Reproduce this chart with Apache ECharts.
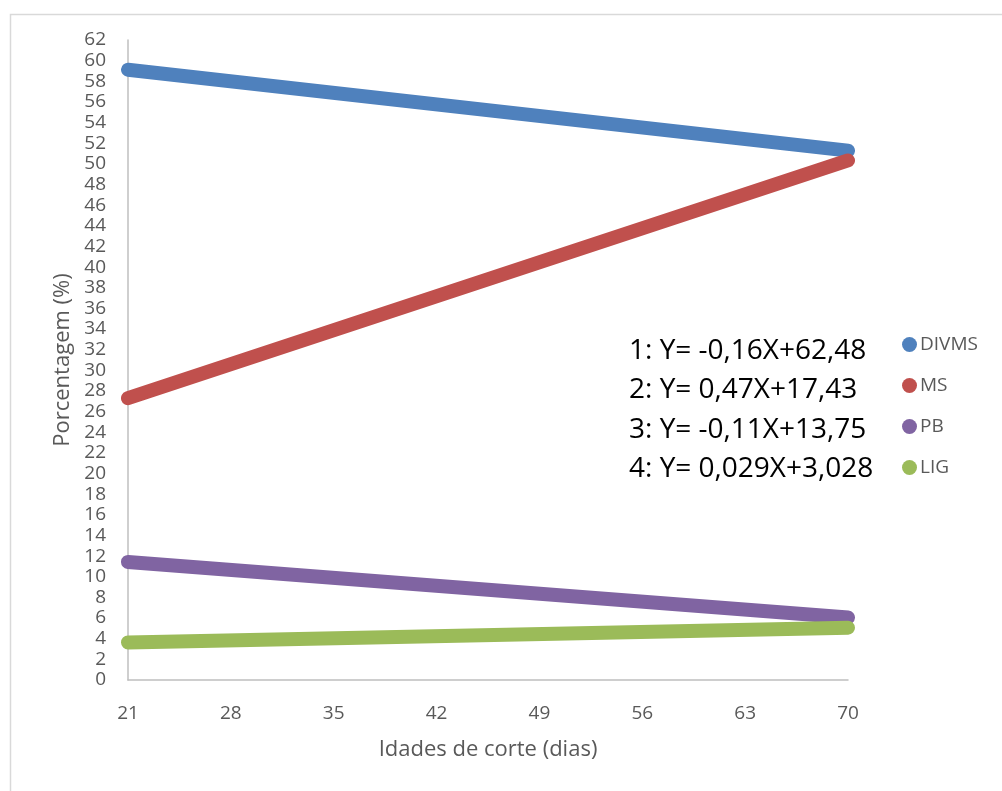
<!DOCTYPE html>
<html><head><meta charset="utf-8">
<script src="https://cdn.jsdelivr.net/npm/echarts@6/dist/echarts.min.js"></script>
<style>html,body{margin:0;padding:0;background:#fff}#c{width:1002px;height:791px}</style>
</head><body><div id="c"></div>
<script>
const ages = [21, 70];
const seriesNames = ['DIVMS', 'MS', 'PB', 'LIG'];
const divms = [59.12, 51.28];
const ms = [27.30, 50.33];
const pb = [11.44, 6.05];
const lig = [3.64, 5.06];
const colors = ['#4f81bd', '#c0504d', '#8064a2', '#9bbb59'];
const equations = ['1: Y= -0,16X+62,48', '2: Y= 0,47X+17,43', '3: Y= -0,11X+13,75', '4: Y= 0,029X+3,028'];

const values = [divms, ms, pb, lig];
const font = '"Open Sans", sans-serif';
const chart = echarts.init(document.getElementById('c'), null, {renderer: 'canvas'});
chart.setOption({
  animation: false,
  backgroundColor: '#fff',
  color: colors,
  grid: {left: 128, top: 40, right: 154, bottom: 111, containLabel: false},
  xAxis: {
    type: 'value', min: 21, max: 70, interval: 7,
    name: 'Idades de corte (dias)', nameLocation: 'middle', nameGap: 59,
    nameTextStyle: {color: '#595959', fontSize: 22, fontFamily: font},
    axisLine: {lineStyle: {color: '#bfbfbf', width: 1.5}},
    axisTick: {show: false},
    axisLabel: {color: '#595959', fontSize: 19, fontFamily: font, margin: 24},
    splitLine: {show: false}
  },
  yAxis: {
    type: 'value', min: 0, max: 62, interval: 2,
    name: 'Porcentagem (%)', nameLocation: 'middle', nameGap: 54, nameRotate: 90,
    nameTextStyle: {color: '#595959', fontSize: 22, fontFamily: font},
    axisLine: {show: true, lineStyle: {color: '#bfbfbf', width: 1.5}},
    axisTick: {show: false},
    axisLabel: {color: '#595959', fontSize: 19, fontFamily: font, margin: 22, lineHeight: 19},
    splitLine: {show: false}
  },
  legend: {
    orient: 'vertical', left: 902, top: 334, itemGap: 20, padding: 0,
    icon: 'circle', itemWidth: 15, itemHeight: 15,
    textStyle: {color: '#595959', fontSize: 19, fontFamily: font, padding: [0, 0, 0, -2], lineHeight: 21},
    data: seriesNames
  },
  graphic: [
    {type: 'rect', left: 8, top: 12, shape: {width: 1010, height: 800}, style: {fill: 'none', stroke: '#d9d9d9', lineWidth: 1.5}, silent: true},
    ...equations.map((t, i) => ({
      type: 'text', left: 629, top: 337 + i * 39.5,
      style: {text: t, fill: '#000', fontSize: 28, fontFamily: font}
    }))
  ],
  series: seriesNames.map((n, i) => ({
    name: n, type: 'line', showSymbol: false,
    data: ages.map((a, j) => [a, values[i][j]]),
    lineStyle: {width: 14, cap: 'round', color: colors[i]},
    itemStyle: {color: colors[i]}
  }))
});
</script></body></html>
